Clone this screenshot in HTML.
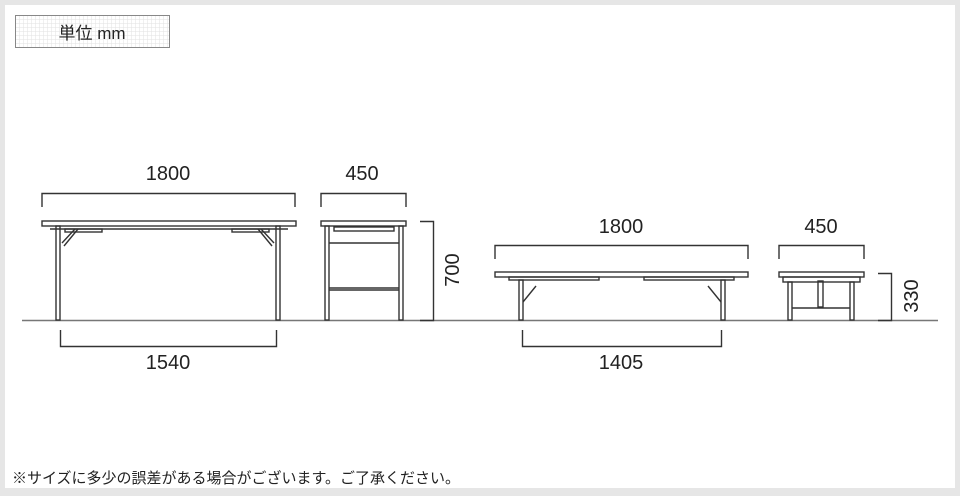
<!DOCTYPE html><html><head><meta charset="utf-8"><style>
html,body{margin:0;padding:0;background:#e6e6e6;}
.wrap{position:relative;width:960px;height:496px;background:#e6e6e6;overflow:hidden}
.inner{position:absolute;left:5px;top:5px;width:950px;height:483px;background:#fff}
svg{position:absolute;left:0;top:0}
text{font-family:"Liberation Sans","Noto Sans CJK JP",sans-serif;fill:#222}
</style></head><body><div class="wrap"><div class="inner"></div>
<svg width="960" height="496" viewBox="0 0 960 496">
<defs><pattern id="g" width="4" height="4" patternUnits="userSpaceOnUse"><path d="M4 0V4H0" fill="none" stroke="#e2e2e2" stroke-width="1"/></pattern></defs>
<rect x="15.5" y="15.5" width="154" height="32" fill="url(#g)" stroke="#888"/>
<text x="92" y="39" font-size="17" text-anchor="middle">単位 mm</text>
<g stroke="#333" stroke-width="1.4" fill="none">
<line x1="22" y1="320.5" x2="938" y2="320.5" stroke="#777"/>
<path d="M42 207V193.5H295V207"/>
<rect x="42" y="221" width="254" height="5"/>
<line x1="50" y1="229" x2="288" y2="229"/>
<rect x="56" y="226" width="4" height="94"/><rect x="276" y="226" width="4" height="94"/>
<path d="M62 243L75 229M64 246L78 229M274 243L261 229M272 246L258 229"/>
<rect x="65" y="229" width="37" height="3"/><rect x="232" y="229" width="37" height="3"/>
<path d="M60.5 330V346.5H276.5V330"/>
<path d="M321 207V193.5H406V207"/>
<rect x="321" y="221" width="85" height="5"/>
<rect x="325" y="226" width="4" height="94"/><rect x="399" y="226" width="4" height="94"/>
<rect x="334" y="227" width="60" height="4"/>
<line x1="329" y1="243" x2="399" y2="243"/>
<line x1="329" y1="288" x2="399" y2="288"/><line x1="329" y1="290" x2="399" y2="290"/>
<path d="M420 221.5H433.5V320.5H420"/>
<path d="M495 259V245.5H748V259"/>
<rect x="495" y="272" width="253" height="5"/>
<rect x="509" y="277" width="90" height="3"/><rect x="644" y="277" width="90" height="3"/>
<rect x="519" y="280" width="4" height="40"/><rect x="721" y="280" width="4" height="40"/>
<path d="M523 302L536 286M721 302L708 286"/>
<path d="M522.5 330V346.5H721.5V330"/>
<path d="M779 259V245.5H864V259"/>
<rect x="779" y="272" width="85" height="5"/>
<rect x="783" y="277" width="77" height="5"/>
<rect x="788" y="282" width="4" height="38"/><rect x="850" y="282" width="4" height="38"/>
<rect x="818" y="281" width="5" height="26"/>
<line x1="792" y1="308" x2="850" y2="308"/>
<path d="M878 273.5H891.5V320.5H878"/>
</g>
<g font-size="20" text-anchor="middle">
<text x="168" y="180">1800</text>
<text x="362" y="180">450</text>
<text x="168" y="369">1540</text>
<text x="621" y="233">1800</text>
<text x="821" y="233">450</text>
<text x="621" y="369">1405</text>
<text transform="translate(459,270) rotate(-90)">700</text>
<text transform="translate(918,296) rotate(-90)">330</text>
</g>
<text x="12" y="483" font-size="15">※サイズに多少の誤差がある場合がございます。ご了承ください。</text>
</svg></div></body></html>
